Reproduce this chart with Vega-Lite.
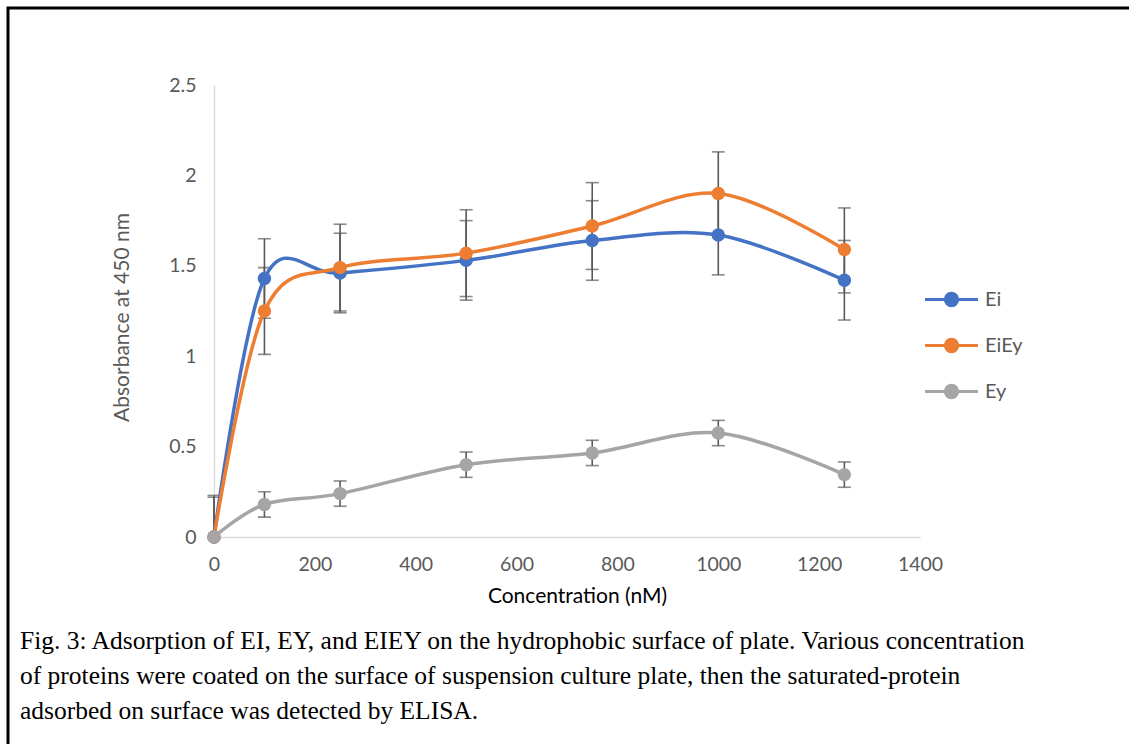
{
  "$schema": "https://vega.github.io/schema/vega-lite/v6.json",
  "width": 1121,
  "height": 736,
  "autosize": {"type": "none"},
  "padding": {"left": 8, "top": 8, "right": 0, "bottom": 0},
  "background": "white",
  "config": {
    "view": {"stroke": "black", "strokeWidth": 3, "strokeDash": [1121, 1857, 736]},
    "font": "Lato",
    "axis": {
      "grid": false,
      "ticks": false,
      "labelFlush": false,
      "labelOverlap": false,
      "domainColor": "#D9D9D9",
      "domainWidth": 1.3,
      "labelColor": "#595959",
      "labelFont": "Lato",
      "labelFontSize": 19.5,
      "titleFont": "Lato",
      "titleFontWeight": "normal",
      "titleFontSize": 21
    }
  },
  "title": {
    "text": [
      "Fig. 3: Adsorption of EI, EY, and EIEY on the hydrophobic surface of plate. Various concentration",
      "of proteins were coated on the surface of suspension culture plate, then the saturated-protein",
      "adsorbed on surface was detected by ELISA."
    ],
    "orient": "bottom",
    "anchor": "start",
    "frame": "group",
    "font": "Liberation Serif",
    "fontSize": 25.5,
    "fontWeight": "normal",
    "color": "black",
    "lineHeight": 35,
    "offset": -115,
    "dx": 12
  },
  "data": {
    "values": [
      {"s": "Ei", "c": 0, "v": 0, "hi": 0.22, "lo": null},
      {"s": "Ei", "c": 100, "v": 1.43, "hi": 1.65, "lo": 1.21},
      {"s": "Ei", "c": 250, "v": 1.46, "hi": 1.68, "lo": 1.24},
      {"s": "Ei", "c": 500, "v": 1.53, "hi": 1.75, "lo": 1.31},
      {"s": "Ei", "c": 750, "v": 1.64, "hi": 1.86, "lo": 1.42},
      {"s": "Ei", "c": 1000, "v": 1.67, "hi": 1.89, "lo": 1.45},
      {"s": "Ei", "c": 1250, "v": 1.42, "hi": 1.64, "lo": 1.2},
      {"s": "EiEy", "c": 0, "v": 0, "hi": 0.23, "lo": null},
      {"s": "EiEy", "c": 100, "v": 1.25, "hi": 1.49, "lo": 1.01},
      {"s": "EiEy", "c": 250, "v": 1.49, "hi": 1.73, "lo": 1.25},
      {"s": "EiEy", "c": 500, "v": 1.57, "hi": 1.81, "lo": 1.33},
      {"s": "EiEy", "c": 750, "v": 1.72, "hi": 1.96, "lo": 1.48},
      {"s": "EiEy", "c": 1000, "v": 1.9, "hi": 2.13, "lo": 1.67},
      {"s": "EiEy", "c": 1250, "v": 1.59, "hi": 1.82, "lo": 1.35},
      {"s": "Ey", "c": 0, "v": 0, "hi": null, "lo": null},
      {"s": "Ey", "c": 100, "v": 0.18, "hi": 0.25, "lo": 0.11},
      {"s": "Ey", "c": 250, "v": 0.24, "hi": 0.31, "lo": 0.17},
      {"s": "Ey", "c": 500, "v": 0.4, "hi": 0.47, "lo": 0.33},
      {"s": "Ey", "c": 750, "v": 0.465, "hi": 0.535, "lo": 0.395},
      {"s": "Ey", "c": 1000, "v": 0.575, "hi": 0.645, "lo": 0.505},
      {"s": "Ey", "c": 1250, "v": 0.345, "hi": 0.415, "lo": 0.275}
    ]
  },
  "encoding": {
    "x": {
      "field": "c",
      "type": "quantitative",
      "scale": {"domain": [0, 1400], "range": [206, 912], "nice": false, "zero": false},
      "axis": {
        "values": [0, 200, 400, 600, 800, 1000, 1200, 1400],
        "format": "d",
        "offset": -207,
        "labelPadding": 18,
        "title": "Concentration (nM)",
        "titleColor": "black",
        "titleX": 569,
        "titleY": 48
      }
    }
  },
  "layer": [
    {
      "mark": {"type": "rule", "color": "#595959", "strokeWidth": 1.6},
      "encoding": {
        "y": {"field": "hi", "type": "quantitative", "scale": {"domain": [0, 2.5], "range": [529, 77], "nice": false, "zero": false}, "axis": {
          "values": [0, 0.5, 1, 1.5, 2, 2.5],
          "format": "~g",
          "offset": -206,
          "labelPadding": 18,
          "title": "Absorbance at 450 nm",
          "titleColor": "#595959",
          "titleX": -82,
          "titleY": 309
        }},
        "y2": {"field": "v"}
      }
    },
    {
      "mark": {"type": "rule", "color": "#595959", "strokeWidth": 1.6},
      "encoding": {
        "y": {"field": "lo", "type": "quantitative"},
        "y2": {"field": "v"}
      }
    },
    {
      "mark": {"type": "tick", "orient": "horizontal", "color": "#595959", "size": 13, "thickness": 1.6},
      "encoding": {"y": {"field": "hi", "type": "quantitative"}}
    },
    {
      "mark": {"type": "tick", "orient": "horizontal", "color": "#595959", "size": 13, "thickness": 1.6},
      "encoding": {"y": {"field": "lo", "type": "quantitative"}}
    },
    {
      "mark": {"type": "line", "interpolate": "cardinal", "strokeWidth": 3.5},
      "encoding": {
        "y": {"field": "v", "type": "quantitative"},
        "color": {
          "field": "s",
          "type": "nominal",
          "scale": {"domain": ["Ei", "EiEy", "Ey"], "range": ["#4472C4", "#ED7D31", "#A5A5A5"]},
          "legend": {
            "title": null,
            "orient": "none",
            "legendX": 919,
            "legendY": 267,
            "symbolType": "M-1.15,0L1.15,0M0.27,0A0.27,0.27,0,1,1,-0.27,0A0.27,0.27,0,1,1,0.27,0Z",
            "symbolSize": 2116,
            "symbolStrokeWidth": 3,
            "labelFont": "Lato",
            "labelFontSize": 20,
            "labelColor": "#595959",
            "labelOffset": 9,
            "rowPadding": 9,
            "padding": 0,
            "encode": {"symbols": {"update": {"fill": {"scale": "color", "field": "value"}, "stroke": {"scale": "color", "field": "value"}, "opacity": {"value": 1}}}}
          }
        }
      }
    },
    {
      "mark": {"type": "circle", "size": 180, "opacity": 1},
      "encoding": {
        "y": {"field": "v", "type": "quantitative"},
        "color": {
          "field": "s",
          "type": "nominal",
          "legend": {
            "title": null,
            "orient": "none",
            "legendX": 919,
            "legendY": 267,
            "symbolType": "M-1.15,0L1.15,0M0.27,0A0.27,0.27,0,1,1,-0.27,0A0.27,0.27,0,1,1,0.27,0Z",
            "symbolSize": 2116,
            "symbolStrokeWidth": 3,
            "labelFont": "Lato",
            "labelFontSize": 20,
            "labelColor": "#595959",
            "labelOffset": 9,
            "rowPadding": 9,
            "padding": 0,
            "encode": {"symbols": {"update": {"fill": {"scale": "color", "field": "value"}, "stroke": {"scale": "color", "field": "value"}, "opacity": {"value": 1}}}}
          }
        }
      }
    }
  ]
}
